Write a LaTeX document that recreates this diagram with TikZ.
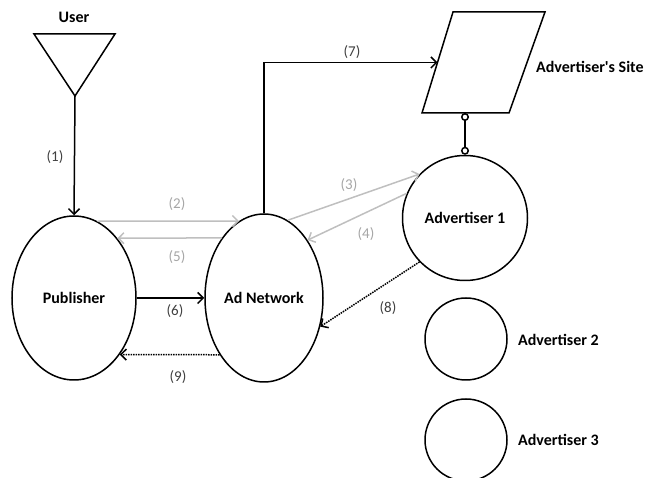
\documentclass[tikz,border=0pt]{standalone}
\usepackage{fontspec}
\setmainfont{Carlito}[Ligatures=TeXOff]
\usetikzlibrary{arrows.meta,shapes.geometric}
\definecolor{lightline}{HTML}{BFBFBF}
\definecolor{lightlabel}{HTML}{A6A6A6}
\definecolor{darklabel}{HTML}{404040}
\begin{document}
\begin{tikzpicture}[x=1pt,y=-1pt,line width=1.5pt,
  oval/.style={draw,ellipse,inner sep=0pt},
  ring/.style={draw,circle,inner sep=0pt},
  title/.style={font=\fontsize{16}{18}\selectfont\bfseries},
  num/.style={font=\fontsize{15}{17}\selectfont,text=darklabel},
  fade/.style={num,text=lightlabel},
  >={Straight Barb[length=5.5pt,width=11pt]}]
\useasboundingbox (0,0) rectangle (657,478);

\draw (34,34) -- (115,34) -- (75,96) -- cycle;
\coordinate (usr) at (75,96);
\node[title] (usrlab) at (74,17) {User};

\draw (453,12) -- (545,12) -- (509,113) -- (422,113) -- cycle;
\coordinate (siteW) at (437.5,62.5);
\coordinate (siteS) at (465,113);
\node[title,anchor=west] (sitelab) at (532,67) {Advertiser's Site};

\node[oval,minimum width=124pt,minimum height=164pt,title] (pub) at (74,298) {Publisher};
\node[oval,minimum width=118pt,minimum height=168pt,title] (net) at (264,298) {Ad Network};
\node[ring,minimum size=125pt,title] (adv1) at (465,218) {Advertiser 1};
\node[ring,minimum size=82pt] (adv2) at (466,339) {};
\node[ring,minimum size=82pt] (adv3) at (466,440) {};
\node[title,anchor=west] (adv2lab) at (514,340) {Advertiser 2};
\node[title,anchor=west] (adv3lab) at (514,440) {Advertiser 3};

\draw[->] (usr) -- (pub.north);
\draw[->,lightline] (pub.73) -- (net.108);
\draw[->,lightline] (net.125) -- (pub.54);
\draw[->,lightline] (net.73) -- (adv1.136);
\draw[->,lightline] (adv1.157) -- (net.53);
\draw[->] (pub.east) -- (net.west);
\draw[->] (net.north) |- (siteW);
\draw[->,densely dotted] (adv1.224) -- (net.333);
\draw[->,densely dotted] (net.232) -- (pub.309);
\draw[{Circle[open,length=8pt]}-{Circle[open,length=8pt]}] (siteS) -- (adv1.north);

\node[num] (n1) at (55,157) {(1)};
\node[fade] (n2) at (177,204) {(2)};
\node[fade] (n3) at (349,185) {(3)};
\node[fade] (n4) at (366,234) {(4)};
\node[fade] (n5) at (177,257) {(5)};
\node[num] (n6) at (175,311) {(6)};
\node[num] (n7) at (352,52) {(7)};
\node[num] (n8) at (388,308) {(8)};
\node[num] (n9) at (178,377) {(9)};
\end{tikzpicture}
\end{document}
